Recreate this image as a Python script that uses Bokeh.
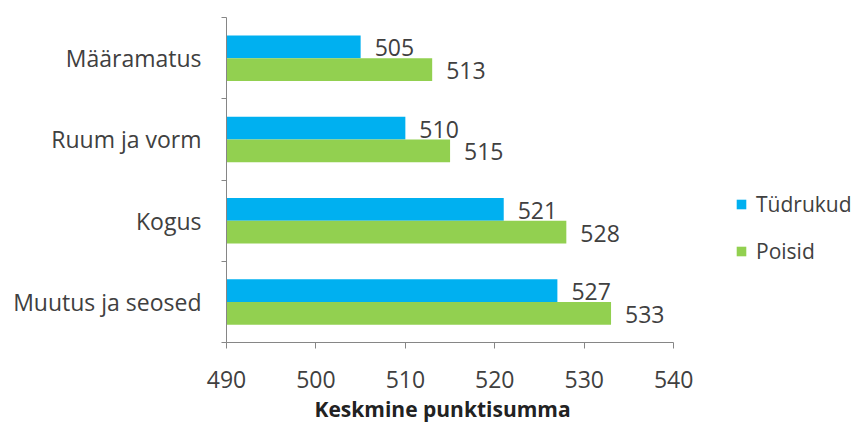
from bokeh.plotting import figure
from bokeh.models import Range1d, FixedTicker, Legend, LegendItem, ColumnDataSource, LabelSet, Title
from bokeh.core.properties import value
from bokeh.embed import file_html
from bokeh.resources import INLINE

categories = ["Määramatus", "Ruum ja vorm", "Kogus", "Muutus ja seosed"]
tudrukud = [505, 510, 521, 527]
poisid = [513, 515, 528, 533]
x_ticks = [490, 500, 510, 520, 530, 540]
series_names = ["Tüdrukud", "Poisid"]
x_title = "Keskmine punktisumma"

BLUE = "#00B0F0"
GREEN = "#92D050"
TEXT = "#404040"
AXIS = "#868686"
FONT = "Open Sans"

n = len(categories)
centers = [n - 0.5 - i for i in range(n)]
bar_h = 0.28

src_g = ColumnDataSource(dict(y=[c + bar_h / 2 for c in centers], v=tudrukud,
                              lab=[str(v) for v in tudrukud]))
src_b = ColumnDataSource(dict(y=[c - bar_h / 2 for c in centers], v=poisid,
                              lab=[str(v) for v in poisid]))

# the frame extends right of 540 to hold the legend; the axis itself stops at 540
p = figure(width=862, height=427, output_backend="svg", toolbar_location=None,
           x_range=Range1d(x_ticks[0], 560), y_range=Range1d(0, n),
           min_border_left=226, min_border_right=10, min_border_top=17, min_border_bottom=85)
p.outline_line_color = None
p.xgrid.visible = False
p.ygrid.visible = False
p.background_fill_color = "white"
p.border_fill_color = "white"

rg = p.hbar(y="y", left=x_ticks[0], right="v", height=bar_h, source=src_g,
            fill_color=BLUE, line_color=None)
rb = p.hbar(y="y", left=x_ticks[0], right="v", height=bar_h, source=src_b,
            fill_color=GREEN, line_color=None)

for src in (src_g, src_b):
    p.add_layout(LabelSet(x="v", y="y", text="lab", source=src, x_offset=14, y_offset=-1,
                          text_baseline="middle", text_font=value(FONT),
                          text_font_size="23px", text_color=TEXT))

# x axis
xa = p.xaxis[0]
xa.ticker = FixedTicker(ticks=x_ticks, minor_ticks=[])
xa.bounds = (x_ticks[0], x_ticks[-1])
xa.major_label_text_font = FONT
xa.major_label_text_font_size = "23px"
xa.major_label_text_color = TEXT
xa.major_label_standoff = 22
xa.axis_line_color = AXIS
xa.major_tick_line_color = AXIS
xa.major_tick_out = 6
xa.major_tick_in = 0
xa.minor_tick_line_color = None

# x-axis title, centred under the 490–540 axis
p.add_layout(Title(text=x_title, align="left", offset=88, standoff=4,
                   text_font=FONT, text_font_style="bold", text_font_size="21px",
                   text_color="#222222"), "below")

# y axis
ya = p.yaxis[0]
ya.ticker = FixedTicker(ticks=centers, minor_ticks=list(range(n + 1)))
ya.major_label_overrides = {c: lab for c, lab in zip(centers, categories)}
ya.major_label_text_font = FONT
ya.major_label_text_font_size = "23px"
ya.major_label_text_color = TEXT
ya.major_label_standoff = 20
ya.axis_line_color = AXIS
ya.major_tick_line_color = None
ya.major_tick_out = 0
ya.major_tick_in = 0
ya.minor_tick_line_color = AXIS
ya.minor_tick_out = 5
ya.minor_tick_in = 0

legend = Legend(items=[LegendItem(label=series_names[0], renderers=[rg]),
                       LegendItem(label=series_names[1], renderers=[rb])],
                location=(509, 77), orientation="vertical",
                glyph_width=12, glyph_height=12, label_standoff=9,
                label_height=22, spacing=19, padding=0, margin=0,
                border_line_color=None, background_fill_alpha=0,
                label_text_font=FONT, label_text_font_size="21px",
                label_text_color=TEXT)
p.add_layout(legend, "center")

open("out.html", "w").write(file_html(p, INLINE))
